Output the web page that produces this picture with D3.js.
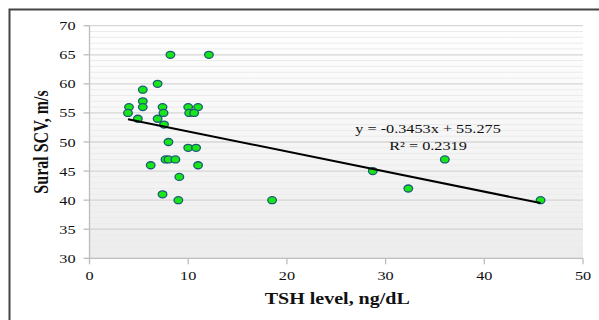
<!DOCTYPE html>
<html lang="en">
    <head>
        <meta charset="UTF-8" />
        <title>Sural SCV vs TSH</title>
        <style>
            body {
                margin: 0;
                padding: 0;
                background: #ffffff;
            }
            svg text {
                font-family: 'Liberation Serif', 'Times New Roman', serif;
                fill: #111;
            }
        </style>
    </head>
    <body>
        <div id="chart"></div>
        <script src="https://d3js.org/d3.v7.min.js"></script>
        <script>
            // values
            const tsh = [8.2, 12.1, 6.9, 5.4, 5.4, 5.4, 4.0, 3.9, 4.9, 7.4, 7.5, 6.9, 7.55, 10.0, 11.0, 10.1, 10.6,
                8.0, 10.0, 10.8, 7.7, 8.0, 8.7, 6.2, 11.0, 9.1, 7.4, 9.0, 18.5, 28.7, 32.3, 36.0, 45.7];
            const scv = [65, 65, 60, 59, 57, 56, 56, 55, 54, 56, 55, 54, 53, 56, 56, 55, 55,
                50, 49, 49, 47, 47, 47, 46, 46, 44, 41, 40, 40, 45, 42, 47, 40];

            const xTicks = [0, 10, 20, 30, 40, 50];
            const yTicks = [30, 35, 40, 45, 50, 55, 60, 65, 70];
            const slope = -0.3453;
            const intercept = 55.275;
            const rSquared = 0.2319;
            const xTitle = 'TSH level, ng/dL';
            const yTitle = 'Sural SCV, m/s';

            const W = 599, H = 320;
            const sx = 1.25; // the picture is stretched sideways
            const pLeft = 89.5, pRight = 583, pTop = 25.7, pBottom = 258.3;

            const svg = d3.select('#chart').append('svg').attr('width', W).attr('height', H);

            const x = d3.scaleLinear().domain([0, 50]).range([pLeft, pRight]);
            const y = d3.scaleLinear().domain([30, 70]).range([pBottom, pTop]);

            const grad = svg.append('defs').append('linearGradient').attr('id', 'bg').attr('x1', 0).attr('y1', 0).attr('x2', 0).attr('y2', 1);
            grad.append('stop').attr('offset', '0%').attr('stop-color', '#ffffff');
            grad.append('stop').attr('offset', '100%').attr('stop-color', '#ececec');

            svg.append('rect').attr('x', pLeft).attr('y', pTop).attr('width', pRight - pLeft).attr('height', pBottom - pTop).attr('fill', 'url(#bg)');

            // minor grid every 1, major every 5
            svg.append('g')
                .selectAll('line')
                .data(d3.range(31, 70).filter((v) => v % 5 !== 0))
                .join('line')
                .attr('x1', pLeft).attr('x2', pRight)
                .attr('y1', (d) => y(d)).attr('y2', (d) => y(d))
                .attr('stroke', '#ebebeb').attr('stroke-width', 1);
            svg.append('g')
                .selectAll('line')
                .data(yTicks.slice(1))
                .join('line')
                .attr('x1', pLeft).attr('x2', pRight)
                .attr('y1', (d) => y(d)).attr('y2', (d) => y(d))
                .attr('stroke', '#d6d6d6').attr('stroke-width', 1.3);

            // axes
            const axisColor = '#bdbdbd';
            svg.append('line').attr('x1', pLeft).attr('x2', pLeft).attr('y1', pTop).attr('y2', pBottom).attr('stroke', axisColor).attr('stroke-width', 1.3);
            svg.append('line').attr('x1', pLeft).attr('x2', pRight).attr('y1', pBottom).attr('y2', pBottom).attr('stroke', axisColor).attr('stroke-width', 1.3);

            svg.append('g').selectAll('line').data(yTicks).join('line')
                .attr('x1', pLeft - 6).attr('x2', pLeft)
                .attr('y1', (d) => y(d)).attr('y2', (d) => y(d))
                .attr('stroke', axisColor).attr('stroke-width', 1.3);
            svg.append('g').selectAll('line').data(xTicks).join('line')
                .attr('x1', (d) => x(d)).attr('x2', (d) => x(d))
                .attr('y1', pBottom).attr('y2', pBottom + 6)
                .attr('stroke', axisColor).attr('stroke-width', 1.3);

            svg.append('g').selectAll('text').data(yTicks).join('text')
                .attr('transform', (d) => `translate(${pLeft - 14},${y(d) + 4.5}) scale(${sx},1)`)
                .attr('text-anchor', 'end')
                .style('font-size', '13px')
                .text((d) => d);
            svg.append('g').selectAll('text').data(xTicks).join('text')
                .attr('transform', (d) => `translate(${x(d)},${pBottom + 21.5}) scale(${sx},1)`)
                .attr('text-anchor', 'middle')
                .style('font-size', '13px')
                .text((d) => d);

            // titles
            svg.append('text')
                .attr('transform', `translate(${(pLeft + pRight) / 2 + 1},304) scale(${sx},1)`)
                .attr('text-anchor', 'middle')
                .style('font-size', '16px').style('font-weight', 'bold')
                .text(xTitle);
            svg.append('text')
                .attr('transform', `translate(48,${(pTop + pBottom) / 2}) scale(${sx},1) rotate(-90)`)
                .attr('text-anchor', 'middle')
                .style('font-size', '16px').style('font-weight', 'bold')
                .text(yTitle);

            // points
            const pts = tsh.map((t, i) => ({ t, v: scv[i] }));
            svg.append('g').selectAll('ellipse').data(pts).join('ellipse')
                .attr('cx', (d) => x(d.t)).attr('cy', (d) => y(d.v))
                .attr('rx', 4.3).attr('ry', 3.5)
                .attr('fill', '#19e619').attr('stroke', '#1d5a78').attr('stroke-width', 1.3);

            // linear trendline
            const xr = d3.extent(tsh);
            const line = d3.line().x((d) => x(d)).y((d) => y(slope * d + intercept));
            svg.append('path').datum(xr).attr('d', line).attr('fill', 'none').attr('stroke', '#000').attr('stroke-width', 2);

            svg.append('text')
                .attr('transform', `translate(428,133) scale(${sx},1)`)
                .attr('text-anchor', 'middle').style('font-size', '13px')
                .text(`y = ${slope}x + ${intercept}`);
            svg.append('text')
                .attr('transform', `translate(428,150) scale(${sx},1)`)
                .attr('text-anchor', 'middle').style('font-size', '13px')
                .text(`R² = ${rSquared}`);

            // frame
            svg.append('path')
                .attr('d', `M9.5,${H} V9.5 H${W}`)
                .attr('fill', 'none').attr('stroke', '#444').attr('stroke-width', 2);
        </script>
    </body>
</html>
